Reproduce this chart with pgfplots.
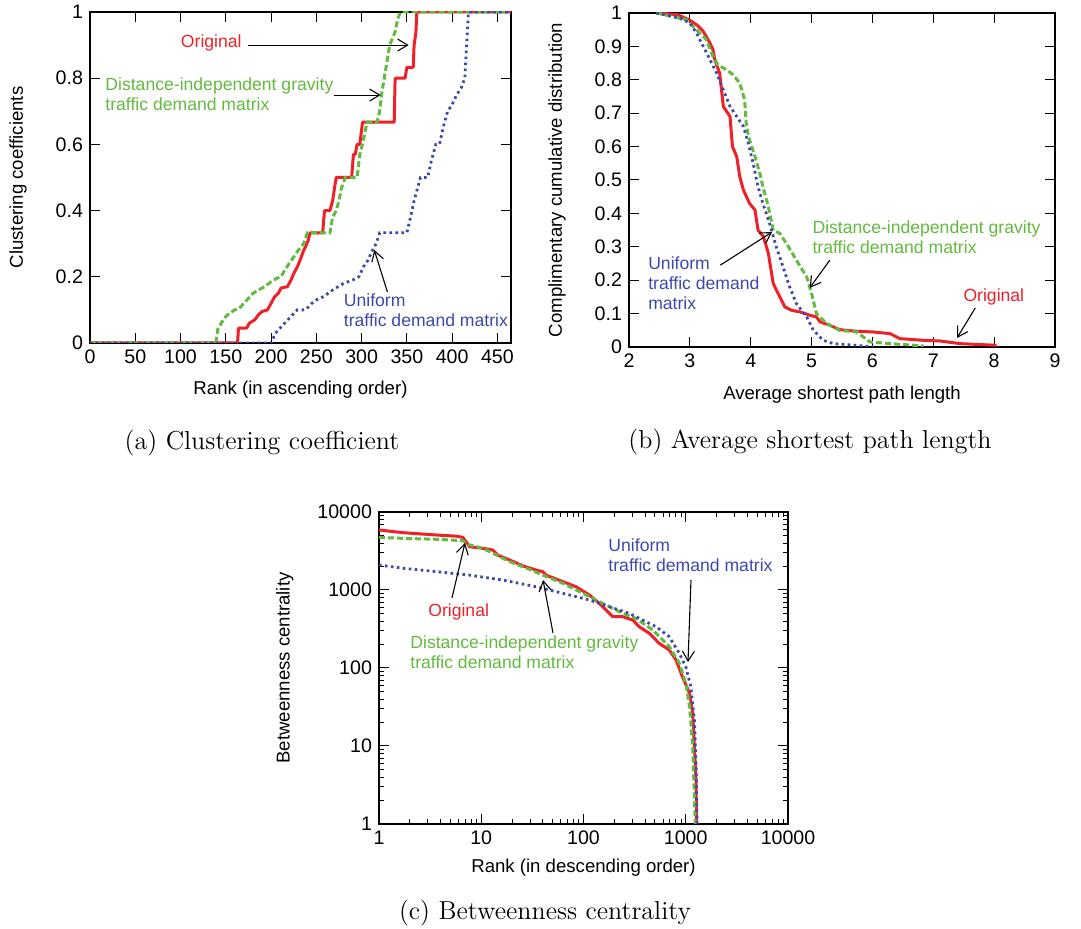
\documentclass[border=0pt]{standalone}
\usepackage{pgfplots}
\pgfplotsset{compat=1.18}
\usetikzlibrary{arrows.meta}
\usepackage{fontspec}
\newfontfamily\hv{Liberation Sans}
\definecolor{cred}{RGB}{238,32,40}
\definecolor{cgreen}{RGB}{98,186,62}
\definecolor{cblue}{RGB}{62,72,172}
\pgfplotsset{
  gp/.style={
    scale only axis,
    axis line style={line width=0.6pt},
    every tick/.style={black, line width=0.5pt},
    major tick length=5pt, minor tick length=2.5pt,
    tick align=inside,
    /pgf/number format/assume math mode=true,
    tick label style={font=\hv\fontsize{9.8}{11}\selectfont},
    label style={font=\hv\fontsize{9.3}{10}\selectfont},
    clip mode=individual,
  },
}
\tikzset{
  redl/.style={cred, line width=1.5pt, line join=round},
  greenl/.style={cgreen, line width=1.5pt, dash pattern=on 3pt off 1.5pt},
  bluel/.style={cblue, line width=1.4pt, dash pattern=on 1.3pt off 1.7pt},
  ann/.style={font=\hv\fontsize{8.8}{10}\selectfont, align=left, anchor=west, inner sep=0pt},
  arr/.style={-{Straight Barb[length=5pt,width=6pt]}, line width=0.55pt, black},
}
\begin{document}
\begin{tikzpicture}
\path[use as bounding box] (0,0) rectangle (540.5pt,464.5pt);

% ---------------- (a) ----------------
\begin{axis}[gp,
  at={(45pt,293pt)}, anchor=south west,
  width=210.5pt, height=165.5pt,
  xmin=0, xmax=465, ymin=0, ymax=1,
  xtick={0,50,100,150,200,250,300,350,400,450},
  ytick={0,0.2,0.4,0.6,0.8,1},
  xlabel={Rank (in ascending order)},
  ylabel={Clustering coefficients},
  xlabel style={at={(axis description cs:0.5,-0.142)}, anchor=center},
  ylabel style={at={(axis description cs:-0.171,0.5)}, anchor=center},
]
\addplot[redl] coordinates {(0,0) (163,0) (164,0.045) (173,0.045) (176,0.06) (182,0.07) (186,0.085) (190,0.095) (196,0.1) (200,0.12) (204,0.14) (208,0.15) (211,0.166) (218,0.17) (222,0.19) (225,0.21) (229,0.23) (232,0.25) (236,0.28) (238,0.29) (241,0.31) (243,0.333) (257,0.333) (259,0.4) (265,0.4) (268,0.43) (270,0.467) (272,0.5) (289,0.5) (291,0.57) (293,0.57) (295,0.6) (298,0.6) (301,0.667) (336,0.667) (337,0.8) (348,0.8) (350,0.833) (357,0.833) (358,0.9) (360,0.94) (361,1) (465,1)};
\addplot[greenl] coordinates {(0,0) (139,0) (141,0.04) (145,0.06) (150,0.08) (154,0.09) (160,0.1) (165,0.105) (170,0.12) (175,0.135) (180,0.15) (186,0.16) (193,0.17) (200,0.185) (206,0.195) (211,0.2) (215,0.22) (220,0.24) (225,0.26) (230,0.28) (236,0.3) (240,0.333) (265,0.333) (268,0.38) (272,0.4) (275,0.43) (278,0.47) (282,0.5) (295,0.5) (298,0.57) (301,0.6) (304,0.64) (306,0.667) (317,0.667) (320,0.7) (322,0.75) (325,0.8) (328,0.85) (331,0.9) (334,0.92) (337,0.94) (340,0.98) (343,1) (465,1)};
\addplot[bluel] coordinates {(0,0) (200,0) (205,0.03) (210,0.045) (215,0.06) (222,0.08) (229,0.1) (238,0.1) (245,0.12) (250,0.13) (258,0.14) (268,0.16) (280,0.18) (290,0.19) (297,0.2) (302,0.23) (307,0.25) (312,0.28) (316,0.3) (320,0.333) (350,0.333) (354,0.38) (358,0.43) (362,0.47) (365,0.5) (373,0.5) (377,0.55) (382,0.6) (386,0.6) (390,0.65) (395,0.7) (400,0.72) (405,0.75) (410,0.77) (414,0.8) (416,0.9) (418,1) (465,1)};
\node[ann, anchor=center, text=cred] at (axis cs:134,0.906) {Original};
\draw[arr] (axis cs:175,0.9) -- (axis cs:352,0.9);
\node[ann, text=cgreen] at (axis cs:16.6,0.752) {Distance-independent gravity\\traffic demand matrix};
\draw[arr] (axis cs:269,0.749) -- (axis cs:321,0.749);
\node[ann, text=cblue] at (axis cs:280,0.1) {Uniform\\traffic demand matrix};
\draw[arr] (axis cs:328.5,0.154) -- (axis cs:314,0.281);
\end{axis}
\node[font=\fontsize{13}{15}\selectfont] at (131pt,243pt) {(a) Clustering coefficient};

% ---------------- (b) ----------------
\begin{axis}[gp,
  at={(314.5pt,291pt)}, anchor=south west,
  width=213pt, height=167pt,
  xmin=2, xmax=9, ymin=0, ymax=1,
  xtick={2,3,4,5,6,7,8,9},
  ytick={0,0.1,0.2,0.3,0.4,0.5,0.6,0.7,0.8,0.9,1},
  xlabel={Average shortest path length},
  ylabel={Complimentary cumulative distribution},
  xlabel style={at={(axis description cs:0.5,-0.144)}, anchor=center},
  ylabel style={at={(axis description cs:-0.169,0.5)}, anchor=center},
]
\addplot[redl] coordinates {(2.45,1) (2.8,0.995) (3.0,0.978) (3.11,0.965) (3.22,0.945) (3.33,0.91) (3.38,0.89) (3.41,0.86) (3.49,0.82) (3.55,0.72) (3.66,0.69) (3.70,0.60) (3.77,0.57) (3.82,0.51) (3.88,0.47) (3.98,0.43) (4.07,0.41) (4.12,0.35) (4.21,0.33) (4.29,0.28) (4.37,0.19) (4.45,0.16) (4.56,0.12) (4.67,0.11) (4.81,0.105) (4.97,0.095) (5.08,0.09) (5.14,0.075) (5.30,0.065) (5.46,0.052) (5.74,0.047) (6.01,0.045) (6.29,0.04) (6.45,0.025) (6.84,0.02) (7.11,0.018) (7.44,0.01) (8.04,0.005)};
\addplot[greenl] coordinates {(2.45,1) (2.94,0.98) (3.11,0.95) (3.27,0.92) (3.38,0.87) (3.46,0.845) (3.60,0.83) (3.71,0.815) (3.82,0.79) (3.90,0.74) (3.93,0.66) (3.98,0.62) (4.07,0.57) (4.15,0.52) (4.20,0.48) (4.29,0.42) (4.37,0.35) (4.48,0.34) (4.62,0.30) (4.75,0.26) (4.92,0.21) (5.0,0.16) (5.08,0.10) (5.25,0.07) (5.46,0.05) (5.74,0.045) (5.85,0.03) (5.96,0.015) (6.29,0.01) (6.84,0.003)};
\addplot[bluel] coordinates {(2.45,1) (2.83,0.985) (3.0,0.97) (3.11,0.94) (3.22,0.90) (3.33,0.86) (3.44,0.82) (3.55,0.77) (3.66,0.72) (3.77,0.69) (3.88,0.66) (3.96,0.61) (4.04,0.55) (4.12,0.48) (4.20,0.43) (4.31,0.37) (4.42,0.30) (4.53,0.24) (4.64,0.18) (4.75,0.13) (4.92,0.09) (5.03,0.05) (5.19,0.02) (5.36,0.01) (5.74,0.005) (6.01,0)};
\node[ann, text=cgreen] at (axis cs:5.01,0.329) {Distance-independent gravity\\traffic demand matrix};
\draw[arr] (axis cs:5.30,0.26) -- (axis cs:4.97,0.177);
\node[ann, text=cblue] at (axis cs:2.31,0.19) {Uniform\\traffic demand\\matrix};
\draw[arr] (axis cs:3.50,0.245) -- (axis cs:4.35,0.344);
\node[ann, text=cred] at (axis cs:7.49,0.15) {Original};
\draw[arr] (axis cs:7.69,0.117) -- (axis cs:7.39,0.027);
\end{axis}
\node[font=\fontsize{13}{15}\selectfont] at (405pt,243.5pt) {(b) Average shortest path length};

% ---------------- (c) ----------------
\begin{axis}[gp,
  at={(189.5pt,52.5pt)}, anchor=south west,
  width=204.5pt, height=156pt,
  xmode=log, ymode=log,
  xmin=1, xmax=10000, ymin=1, ymax=10000,
  log ticks with fixed point,
  /pgf/number format/1000 sep={},
  xlabel={Rank (in descending order)},
  ylabel={Betweenness centrality},
  xlabel style={at={(axis description cs:0.5,-0.141)}, anchor=center},
  ylabel style={at={(axis description cs:-0.23,0.5)}, anchor=center},
]
\addplot[redl] coordinates {(1,5880) (1.72,5430) (3.63,5070) (5.7,4900) (6.6,4730) (7.1,4170) (7.7,3590) (10.4,3420) (13,3250) (14.5,2800) (18.9,2430) (25.5,2040) (34.5,1800) (40,1720) (43,1550) (62.8,1280) (84.6,1100) (114,863) (143,673) (179,503) (193,455) (241,455) (303,412) (350,339) (440,278) (550,207) (690,170) (803,127) (930,77) (1090,47) (1170,26) (1215,9.8) (1260,3.7) (1276,1)};
\addplot[greenl] coordinates {(1,4730) (1.72,4590) (3.63,4470) (6.6,4290) (7.7,3780) (10.4,3420) (14,2820) (18.9,2310) (29.7,1840) (40,1550) (62.8,1220) (98.5,906) (155,673) (241,503) (325,433) (476,307) (690,188) (865,115) (1000,64) (1090,32) (1170,9.8) (1215,2.2) (1240,1)};
\addplot[bluel] coordinates {(1,2090) (1.72,1900) (3.63,1720) (7.7,1550) (16.3,1340) (34.5,1100) (73,863) (114,745) (179,611) (279,503) (378,412) (510,339) (690,252) (865,154) (1000,104) (1120,58) (1215,21.5) (1260,6) (1290,1)};
\node[ann, text=cblue] at (axis cs:174,2810) {Uniform\\traffic demand matrix};
\draw[arr] (axis cs:1125,1343) -- (axis cs:1052,119);
\node[ann, text=cred] at (axis cs:3.01,522) {Original};
\draw[arr] (axis cs:5.17,789) -- (axis cs:6.93,4005);
\node[ann, text=cgreen] at (axis cs:2.01,160) {Distance-independent gravity\\traffic demand matrix};
\draw[arr] (axis cs:50.3,281) -- (axis cs:40.2,1343);
\end{axis}
\node[font=\fontsize{13}{15}\selectfont] at (272.5pt,8pt) {(c) Betweenness centrality};
\end{tikzpicture}
\end{document}
